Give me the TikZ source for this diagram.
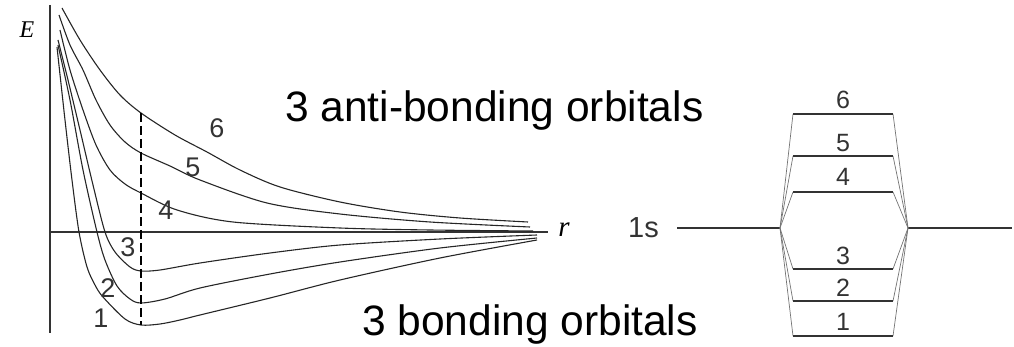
\documentclass[tikz,border=0pt]{standalone}
\usepackage{fontspec}
\setmainfont{Liberation Sans}
\newfontfamily\timesfont{Liberation Serif}
\begin{document}
\begin{tikzpicture}[x=1pt, y=-1pt,
    curve/.style={line width=1.1pt, black!85},
    lbl/.style={inner sep=0pt, font=\fontsize{27}{27}\selectfont, black!80},
    rlbl/.style={inner sep=0pt, font=\fontsize{25}{25}\selectfont, black!80},
    level/.style={line width=1.1pt, black!80},
    link/.style={line width=0.7pt, black!55},
    big/.style={inner sep=0pt, anchor=base west, font=\fontsize{42.5}{42.5}\selectfont}]
    \useasboundingbox (0,0) rectangle (1014,347);

    % Оси
    \coordinate (top) at (50,5);
    \coordinate (bot) at (50,333);
    \coordinate (O) at (50,232);
    \coordinate (xend) at (548,232);
    \draw[line width=1.1pt, black!80] (top) -- (bot);
    \draw[line width=1.1pt, black!80] (O) -- (xend);
    \node[inner sep=0pt, font=\timesfont\itshape\fontsize{24}{24}\selectfont] (E) at (27,30) {E};
    \node[inner sep=0pt, anchor=base, font=\timesfont\itshape\fontsize{29}{29}\selectfont] (r) at (564,237) {r};

    % Кривые
    \draw[curve] plot[smooth] coordinates {(62,8) (80,40) (100,70) (120,95) (141,113) (175,135) (207,152) (240,170) (280,187) (340,202) (400,212) (460,218) (528,222)};
    \draw[curve] plot[smooth] coordinates {(59,15) (70,45) (83,70) (96,100) (110,125) (125,142) (141,153) (170,166) (200,180) (267,203) (340,214) (430,222) (530,227)};
    \draw[curve] plot[smooth] coordinates {(60,30) (70,70) (83,110) (96,145) (110,170) (125,184) (141,193) (177,210) (233,222) (340,228) (430,230) (533,231)};
    \draw[curve] plot[smooth] coordinates {(58,40) (68,80) (80,130) (93,185) (105,232) (115,252) (130,267) (141,271) (160,270) (200,263) (270,253) (340,245) (440,239) (537,235)};
    \draw[curve] plot[smooth] coordinates {(58,45) (70,100) (83,170) (97,232) (105,260) (117,286) (130,299) (141,303) (165,299) (200,288) (270,274) (340,262) (440,248) (537,238)};
    \draw[curve] plot[smooth] coordinates {(57,47) (65,120) (72,180) (79,232) (87,267) (95,285) (103,297) (125,319) (141,325) (160,324) (180,320) (200,315) (270,298) (340,280) (440,258) (537,240)};

    % Равновесное расстояние
    \draw[line width=2.4pt, dash pattern=on 9pt off 4pt, black] (141,113) -- (141,325);

    \foreach \n/\x/\y in {1/101/318, 2/108/288, 3/128/247, 4/166/210, 5/193/167, 6/217/128}
        \node[lbl] (c\n) at (\x,\y) {\n};

    % Подписи
    \node[big] (anti) at (285,122) {3 anti-bonding orbitals};
    \node[big] (bond) at (362,335) {3 bonding orbitals};

    % Уровни
    \node[inner sep=0pt, anchor=base west, font=\fontsize{29}{29}\selectfont, black!80] (s) at (628,238) {1s};
    \coordinate (sL) at (677,228);
    \coordinate (sR) at (1012,228);
    \coordinate (lv) at (780,228);
    \coordinate (rv) at (908,228);
    \draw[level] (sL) -- (lv);
    \draw[level] (rv) -- (sR);
    \foreach \n/\y/\t in {1/336/322, 2/301/288, 3/269/256, 4/192/177, 5/156/143, 6/114/100} {
        \coordinate (L\n) at (793,\y);
        \coordinate (R\n) at (893,\y);
        \draw[link] (lv) -- (L\n);
        \draw[link] (R\n) -- (rv);
        \draw[level] (L\n) -- (R\n);
        \node[rlbl] (m\n) at (843,\t) {\n};
    }
\end{tikzpicture}
\end{document}
